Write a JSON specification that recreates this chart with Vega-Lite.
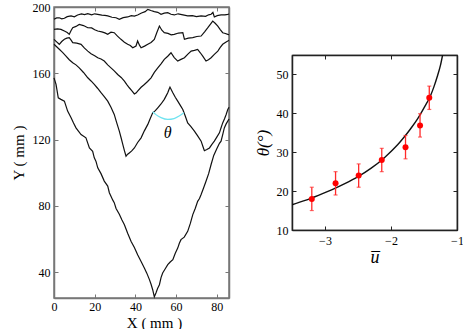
{
  "$schema": "https://vega.github.io/schema/vega-lite/v6.json",
  "padding": {"left": 10, "top": 0, "right": 3, "bottom": 0},
  "background": "white",
  "spacing": 20,
  "config": {
    "font": "Liberation Serif",
    "view": {"stroke": null},
    "axis": {
      "labelFont": "Liberation Serif", "titleFont": "Liberation Serif",
      "labelFontSize": 12, "labelColor": "black", "titleColor": "black",
      "titleFontWeight": "normal", "grid": false, "labelFlush": false,
      "domainColor": "#777", "tickColor": "#777", "domainWidth": 1.5
    }
  },
  "datasets": {
    "profiles": [
      {"c":"A","x":0,"y":192.6},{"c":"A","x":1.3,"y":193.4},{"c":"A","x":2.6,"y":193.5},{"c":"A","x":3.8,"y":192.9},{"c":"A","x":5.1,"y":193.2},{"c":"A","x":6.5,"y":194.2},{"c":"A","x":8.4,"y":194.6},{"c":"A","x":10,"y":194.1},{"c":"A","x":11.6,"y":195.2},{"c":"A","x":13.5,"y":195.8},{"c":"A","x":15,"y":195.4},{"c":"A","x":16.6,"y":196},{"c":"A","x":18.5,"y":195.3},{"c":"A","x":20,"y":195.9},{"c":"A","x":21.5,"y":195.6},{"c":"A","x":23.5,"y":195.1},{"c":"A","x":25,"y":194.9},{"c":"A","x":26.4,"y":194.6},{"c":"A","x":28.5,"y":193.8},{"c":"A","x":30.5,"y":193.5},{"c":"A","x":32.1,"y":192.6},{"c":"A","x":34,"y":193.6},{"c":"A","x":36.2,"y":194},{"c":"A","x":38,"y":194.8},{"c":"A","x":39.5,"y":194.5},{"c":"A","x":41.1,"y":195.2},{"c":"A","x":43,"y":196.4},{"c":"A","x":44.8,"y":197.2},{"c":"A","x":46.1,"y":198.6},{"c":"A","x":47.6,"y":197.9},{"c":"A","x":49.3,"y":197.2},{"c":"A","x":51,"y":196.8},{"c":"A","x":52.6,"y":195.6},{"c":"A","x":54.2,"y":196.3},{"c":"A","x":55.9,"y":196.6},{"c":"A","x":57.5,"y":195.6},{"c":"A","x":59.1,"y":195.2},{"c":"A","x":61,"y":195.9},{"c":"A","x":62.8,"y":195.4},{"c":"A","x":65.7,"y":194.6},{"c":"A","x":68,"y":194.8},{"c":"A","x":70,"y":194.2},{"c":"A","x":72.3,"y":194.6},{"c":"A","x":74.5,"y":194.4},{"c":"A","x":76,"y":195.3},{"c":"A","x":77.2,"y":195.6},{"c":"A","x":78.1,"y":196.7},{"c":"A","x":78.8,"y":194},{"c":"A","x":80.2,"y":194.8},{"c":"A","x":82.1,"y":195.2},{"c":"A","x":84,"y":195.3},{"c":"A","x":85.4,"y":195.6},{"c":"A","x":86,"y":195.8},
      {"c":"B","x":0,"y":186.5},{"c":"B","x":1.7,"y":186.8},{"c":"B","x":3.4,"y":186.5},{"c":"B","x":5.1,"y":185.5},{"c":"B","x":6.5,"y":184.6},{"c":"B","x":7.5,"y":183.5},{"c":"B","x":8.4,"y":185.8},{"c":"B","x":9.2,"y":187.5},{"c":"B","x":10.8,"y":188.3},{"c":"B","x":12.4,"y":189.5},{"c":"B","x":14.5,"y":188.8},{"c":"B","x":16.6,"y":187.5},{"c":"B","x":18.5,"y":187.4},{"c":"B","x":20,"y":186.3},{"c":"B","x":21.5,"y":185.5},{"c":"B","x":23.5,"y":185},{"c":"B","x":25,"y":184.4},{"c":"B","x":26.4,"y":183.5},{"c":"B","x":28,"y":184.8},{"c":"B","x":29.6,"y":184.5},{"c":"B","x":31.2,"y":182.4},{"c":"B","x":32.9,"y":180.5},{"c":"B","x":34.6,"y":178.8},{"c":"B","x":36.2,"y":177.5},{"c":"B","x":37.5,"y":176.8},{"c":"B","x":38.7,"y":175.4},{"c":"B","x":40.3,"y":176.5},{"c":"B","x":41.1,"y":179.5},{"c":"B","x":42,"y":177},{"c":"B","x":42.8,"y":175.4},{"c":"B","x":44.5,"y":176.4},{"c":"B","x":46.1,"y":177.5},{"c":"B","x":47.7,"y":178.6},{"c":"B","x":49.3,"y":180.5},{"c":"B","x":50.5,"y":184.5},{"c":"B","x":51.8,"y":188.5},{"c":"B","x":53,"y":186},{"c":"B","x":54.2,"y":184.5},{"c":"B","x":56,"y":184.1},{"c":"B","x":57.6,"y":183.2},{"c":"B","x":59.1,"y":183.5},{"c":"B","x":61.2,"y":184.3},{"c":"B","x":63.3,"y":184.5},{"c":"B","x":64.1,"y":180.5},{"c":"B","x":66,"y":181.2},{"c":"B","x":68.2,"y":181.5},{"c":"B","x":70.2,"y":182.2},{"c":"B","x":72.3,"y":182.5},{"c":"B","x":74,"y":185},{"c":"B","x":75.6,"y":187.5},{"c":"B","x":77,"y":189.8},{"c":"B","x":78,"y":191.5},{"c":"B","x":79.2,"y":190.2},{"c":"B","x":80.5,"y":188.5},{"c":"B","x":81.7,"y":186.4},{"c":"B","x":82.9,"y":184.5},{"c":"B","x":84.2,"y":184},{"c":"B","x":85.4,"y":183.5},{"c":"B","x":86,"y":183.3},
      {"c":"C","x":0,"y":180.5},{"c":"C","x":1.3,"y":179},{"c":"C","x":2.6,"y":177.5},{"c":"C","x":3.8,"y":179.2},{"c":"C","x":5.1,"y":180.5},{"c":"C","x":6.3,"y":181.2},{"c":"C","x":7.5,"y":181.5},{"c":"C","x":8.4,"y":180},{"c":"C","x":9.2,"y":178.5},{"c":"C","x":11.2,"y":178.2},{"c":"C","x":13.3,"y":177.5},{"c":"C","x":15,"y":175.2},{"c":"C","x":16.6,"y":173.4},{"c":"C","x":18.2,"y":171.8},{"c":"C","x":20,"y":170.6},{"c":"C","x":21.5,"y":169.4},{"c":"C","x":23.1,"y":168.6},{"c":"C","x":24.7,"y":167.4},{"c":"C","x":26.4,"y":165.1},{"c":"C","x":28,"y":163.3},{"c":"C","x":29.6,"y":161.5},{"c":"C","x":31.3,"y":159.3},{"c":"C","x":33,"y":157.5},{"c":"C","x":34.6,"y":155.3},{"c":"C","x":35.8,"y":153.2},{"c":"C","x":37,"y":151.3},{"c":"C","x":38.2,"y":149.6},{"c":"C","x":39.5,"y":147.6},{"c":"C","x":40.3,"y":148.1},{"c":"C","x":41.1,"y":149.3},{"c":"C","x":42.8,"y":151.6},{"c":"C","x":44.4,"y":153.3},{"c":"C","x":46,"y":155.1},{"c":"C","x":47.7,"y":157.3},{"c":"C","x":49.3,"y":160.6},{"c":"C","x":51,"y":163.3},{"c":"C","x":52.6,"y":165.7},{"c":"C","x":54.2,"y":168.4},{"c":"C","x":55.9,"y":170.3},{"c":"C","x":57.5,"y":172.4},{"c":"C","x":59.1,"y":169.5},{"c":"C","x":60.8,"y":167.4},{"c":"C","x":62.4,"y":168.4},{"c":"C","x":64.1,"y":169.4},{"c":"C","x":65.8,"y":171.6},{"c":"C","x":67.4,"y":173.4},{"c":"C","x":69,"y":173.8},{"c":"C","x":70.6,"y":174.4},{"c":"C","x":71.9,"y":172.4},{"c":"C","x":73.1,"y":170.4},{"c":"C","x":74.7,"y":167.4},{"c":"C","x":75.9,"y":168.2},{"c":"C","x":77.2,"y":169.4},{"c":"C","x":78.8,"y":171.4},{"c":"C","x":80.5,"y":173.4},{"c":"C","x":81.7,"y":175.6},{"c":"C","x":82.9,"y":177.5},{"c":"C","x":84.2,"y":178.6},{"c":"C","x":85.4,"y":179.5},{"c":"C","x":86,"y":180},
      {"c":"D","x":0,"y":177.5},{"c":"D","x":1.3,"y":176},{"c":"D","x":2.6,"y":174.5},{"c":"D","x":4.2,"y":172.6},{"c":"D","x":5.9,"y":170.4},{"c":"D","x":7.5,"y":168.2},{"c":"D","x":9.2,"y":166.4},{"c":"D","x":10.8,"y":165.1},{"c":"D","x":12.4,"y":163.3},{"c":"D","x":14.5,"y":160.5},{"c":"D","x":16.6,"y":157.3},{"c":"D","x":18.2,"y":155.4},{"c":"D","x":19.8,"y":153.3},{"c":"D","x":21.4,"y":151},{"c":"D","x":23.1,"y":148.3},{"c":"D","x":24.7,"y":146},{"c":"D","x":26.4,"y":143.2},{"c":"D","x":28,"y":139.5},{"c":"D","x":29.6,"y":135.2},{"c":"D","x":30.8,"y":130.3},{"c":"D","x":32.1,"y":125.1},{"c":"D","x":33,"y":121},{"c":"D","x":33.8,"y":117.1},{"c":"D","x":34.6,"y":113.4},{"c":"D","x":35.4,"y":110},{"c":"D","x":36.2,"y":111.2},{"c":"D","x":37,"y":112},{"c":"D","x":38.2,"y":113.2},{"c":"D","x":39.5,"y":115},{"c":"D","x":41.1,"y":118.3},{"c":"D","x":42.8,"y":121.1},{"c":"D","x":44.4,"y":125.3},{"c":"D","x":46.1,"y":129.2},{"c":"D","x":47.3,"y":132.7},{"c":"D","x":48.5,"y":136.2},{"c":"D","x":49.8,"y":137.5},{"c":"D","x":51,"y":139.2},{"c":"D","x":52.6,"y":141.5},{"c":"D","x":54.2,"y":144.3},{"c":"D","x":55.1,"y":146.4},{"c":"D","x":55.9,"y":148.3},{"c":"D","x":56.5,"y":150.2},{"c":"D","x":57,"y":151.7},{"c":"D","x":57.7,"y":150},{"c":"D","x":58.4,"y":148.3},{"c":"D","x":59.6,"y":145.6},{"c":"D","x":60.8,"y":143.2},{"c":"D","x":62,"y":140.8},{"c":"D","x":63.3,"y":138.2},{"c":"D","x":64.5,"y":134.3},{"c":"D","x":65.7,"y":130.1},{"c":"D","x":67.3,"y":127.8},{"c":"D","x":69,"y":125.1},{"c":"D","x":70.6,"y":122.3},{"c":"D","x":72.3,"y":119.1},{"c":"D","x":73.1,"y":116.2},{"c":"D","x":73.9,"y":113.3},{"c":"D","x":75.1,"y":114},{"c":"D","x":76.4,"y":115},{"c":"D","x":77.6,"y":117.2},{"c":"D","x":78.8,"y":119.1},{"c":"D","x":80,"y":121.5},{"c":"D","x":81.3,"y":124.1},{"c":"D","x":82.1,"y":127.2},{"c":"D","x":82.9,"y":130.1},{"c":"D","x":83.8,"y":132.6},{"c":"D","x":84.6,"y":135.2},{"c":"D","x":85.4,"y":138.2},{"c":"D","x":86,"y":139.5},
      {"c":"E","x":0,"y":157.3},{"c":"E","x":1,"y":153.3},{"c":"E","x":2.1,"y":145.2},{"c":"E","x":3.4,"y":144.3},{"c":"E","x":5.1,"y":143.2},{"c":"E","x":6.7,"y":137.2},{"c":"E","x":8.4,"y":133.2},{"c":"E","x":9.6,"y":130},{"c":"E","x":10.8,"y":127.1},{"c":"E","x":12,"y":125.2},{"c":"E","x":13.3,"y":123.1},{"c":"E","x":15.7,"y":121.1},{"c":"E","x":17.4,"y":115},{"c":"E","x":19,"y":113},{"c":"E","x":19.8,"y":109},{"c":"E","x":20.6,"y":107},{"c":"E","x":21.5,"y":103},{"c":"E","x":23.1,"y":99.5},{"c":"E","x":24.7,"y":95},{"c":"E","x":26.4,"y":92},{"c":"E","x":27.2,"y":88},{"c":"E","x":28.9,"y":83.5},{"c":"E","x":29.6,"y":82},{"c":"E","x":30.5,"y":78.5},{"c":"E","x":32.1,"y":75},{"c":"E","x":33.4,"y":71.5},{"c":"E","x":34.6,"y":68.7},{"c":"E","x":36.2,"y":63.5},{"c":"E","x":37.9,"y":58.6},{"c":"E","x":39.5,"y":55},{"c":"E","x":41.1,"y":50.6},{"c":"E","x":42.8,"y":46.5},{"c":"E","x":44.4,"y":42.6},{"c":"E","x":45.6,"y":39.5},{"c":"E","x":46.9,"y":35.6},{"c":"E","x":47.7,"y":32.8},{"c":"E","x":48.5,"y":29.5},{"c":"E","x":49.3,"y":25.2},{"c":"E","x":50.1,"y":27.5},{"c":"E","x":50.9,"y":30.2},{"c":"E","x":51.8,"y":32.5},{"c":"E","x":52.6,"y":36.8},{"c":"E","x":53.4,"y":39.6},{"c":"E","x":54.6,"y":42},{"c":"E","x":55.9,"y":44.6},{"c":"E","x":57.1,"y":46.2},{"c":"E","x":58.4,"y":47.6},{"c":"E","x":59.6,"y":51.5},{"c":"E","x":60.8,"y":54.6},{"c":"E","x":61.6,"y":57.5},{"c":"E","x":62.4,"y":59.7},{"c":"E","x":64,"y":61.2},{"c":"E","x":65.7,"y":64.7},{"c":"E","x":67,"y":69.5},{"c":"E","x":68.2,"y":74.8},{"c":"E","x":69.4,"y":78.5},{"c":"E","x":70.6,"y":82.8},{"c":"E","x":71.5,"y":84.5},{"c":"E","x":72.3,"y":86.9},{"c":"E","x":73.5,"y":90.8},{"c":"E","x":74.7,"y":94.9},{"c":"E","x":76,"y":99.5},{"c":"E","x":77.2,"y":105},{"c":"E","x":78.5,"y":110.5},{"c":"E","x":80,"y":114.5},{"c":"E","x":81.3,"y":117.8},{"c":"E","x":82.1,"y":119.1},{"c":"E","x":83,"y":123.5},{"c":"E","x":83.7,"y":127.1},{"c":"E","x":84.6,"y":129.5},{"c":"E","x":85.4,"y":131.2},{"c":"E","x":86,"y":132.5}
    ],
    "arc": [
      {"x":48.5,"y":136.8},{"x":50.1,"y":135.1},{"x":52.6,"y":133.3},{"x":55.9,"y":132.2},{"x":59,"y":132.7},{"x":61.5,"y":134.2},{"x":63.8,"y":136.2}
    ],
    "label": [{"x":55.9,"y":124.1,"t":"θ"}],
    "fit": [
      {"u":-3.5,"th":16.5},{"u":-3.3,"th":17.6},{"u":-3.1,"th":18.9},{"u":-2.9,"th":20.3},{"u":-2.7,"th":21.9},{"u":-2.5,"th":23.7},{"u":-2.3,"th":25.9},{"u":-2.1,"th":28.6},{"u":-1.9,"th":31.9},{"u":-1.8,"th":33.9},{"u":-1.7,"th":36.1},{"u":-1.6,"th":38.5},{"u":-1.5,"th":41.4},{"u":-1.4,"th":44.6},{"u":-1.35,"th":46.8},{"u":-1.3,"th":49.4},{"u":-1.25,"th":52.4},{"u":-1.218,"th":55}
    ],
    "pts": [
      {"u":-3.2,"th":18,"lo":15,"hi":21},{"u":-2.84,"th":22,"lo":19,"hi":25},{"u":-2.49,"th":24,"lo":21,"hi":27},{"u":-2.14,"th":28,"lo":25,"hi":31},{"u":-1.78,"th":31.3,"lo":28.3,"hi":34.3},{"u":-1.56,"th":36.9,"lo":33.9,"hi":39.9},{"u":-1.42,"th":44,"lo":41,"hi":47}
    ],
    "empty": []
  },
  "hconcat": [
    {
      "width": 175, "height": 291,
      "view": {"stroke": "#777", "strokeWidth": 1.5},
      "resolve": {"axis": {"x": "independent", "y": "independent"}},
      "layer": [
        {
          "data": {"name": "profiles"},
          "mark": {"type": "line", "color": "#111", "strokeWidth": 1.2},
          "encoding": {
            "x": {"field": "x", "type": "quantitative", "scale": {"domain": [0, 86], "nice": false, "zero": false},
                  "axis": {"values": [0, 20, 40, 60, 80], "title": "X ( mm )", "titleFontSize": 15, "titlePadding": 3, "tickSize": -4, "labelPadding": 7, "titleX": 100}},
            "y": {"field": "y", "type": "quantitative", "scale": {"domain": [24.5, 200], "nice": false, "zero": false},
                  "axis": {"values": [40, 80, 120, 160, 200], "title": "Y ( mm )", "titleFontSize": 15, "titlePadding": 6, "tickSize": -4, "labelPadding": 8}},
            "detail": {"field": "c"}
          }
        },
        {
          "data": {"name": "arc"},
          "mark": {"type": "line", "color": "#6fe3f0", "strokeWidth": 1.2, "interpolate": "monotone"},
          "encoding": {
            "x": {"field": "x", "type": "quantitative", "axis": null},
            "y": {"field": "y", "type": "quantitative", "axis": null}
          }
        },
        {
          "data": {"name": "label"},
          "mark": {"type": "text", "font": "Liberation Serif", "fontStyle": "italic", "fontSize": 16, "color": "black"},
          "encoding": {
            "x": {"field": "x", "type": "quantitative", "axis": {"orient": "top", "values": [0, 20, 40, 60, 80], "labels": false, "title": null, "tickSize": -4}},
            "y": {"field": "y", "type": "quantitative", "axis": {"orient": "right", "values": [40, 80, 120, 160, 200], "labels": false, "title": null, "tickSize": -4}},
            "text": {"field": "t"}
          }
        }
      ]
    },
    {
      "spacing": 0,
      "vconcat": [
        {
          "width": 165, "height": 45.7,
          "data": {"name": "empty"},
          "mark": {"type": "point", "opacity": 0},
          "encoding": {}
        },
        {
          "width": 165, "height": 175,
          "view": {"stroke": "#222", "strokeWidth": 1.2},
          "resolve": {"axis": {"x": "independent", "y": "independent"}},
          "layer": [
            {
              "data": {"name": "fit"},
              "mark": {"type": "line", "color": "#111", "strokeWidth": 1.4, "interpolate": "monotone", "clip": true},
              "encoding": {
                "x": {"field": "u", "type": "quantitative", "scale": {"domain": [-3.5, -1], "nice": false, "zero": false},
                      "axis": {"values": [-3, -2, -1], "title": "u\u0305", "titleFontSize": 18, "titleFontStyle": "italic", "titlePadding": 2, "tickSize": -4, "labelPadding": 9, "domainColor": "#222", "tickColor": "#222"}},
                "y": {"field": "th", "type": "quantitative", "scale": {"domain": [10, 55], "nice": false, "zero": false},
                      "axis": {"values": [10, 20, 30, 40, 50], "title": "θ(°)", "titleFontSize": 17, "titleFontStyle": "italic", "titlePadding": 4, "tickSize": -4, "labelPadding": 8, "domainColor": "#222", "tickColor": "#222"}}
              }
            },
            {
              "data": {"name": "pts"},
              "mark": {"type": "rule", "color": "#ff2a2a", "strokeWidth": 1.3},
              "encoding": {
                "x": {"field": "u", "type": "quantitative", "axis": null},
                "y": {"field": "lo", "type": "quantitative", "axis": null},
                "y2": {"field": "hi"}
              }
            },
            {
              "data": {"name": "pts"},
              "mark": {"type": "tick", "orient": "horizontal", "color": "#ff2a2a", "size": 4, "thickness": 1.2},
              "encoding": {
                "x": {"field": "u", "type": "quantitative", "axis": null},
                "y": {"field": "lo", "type": "quantitative", "axis": null}
              }
            },
            {
              "data": {"name": "pts"},
              "mark": {"type": "tick", "orient": "horizontal", "color": "#ff2a2a", "size": 4, "thickness": 1.2},
              "encoding": {
                "x": {"field": "u", "type": "quantitative", "axis": null},
                "y": {"field": "hi", "type": "quantitative", "axis": null}
              }
            },
            {
              "data": {"name": "pts"},
              "mark": {"type": "circle", "color": "#ff0000", "opacity": 1, "size": 36},
              "encoding": {
                "x": {"field": "u", "type": "quantitative", "axis": {"orient": "top", "values": [-3, -2, -1], "labels": false, "title": null, "tickSize": -4, "domainColor": "#222", "tickColor": "#222"}},
                "y": {"field": "th", "type": "quantitative", "axis": {"orient": "right", "values": [10, 20, 30, 40, 50], "labels": false, "title": null, "tickSize": -4, "domainColor": "#222", "tickColor": "#222"}}
              }
            }
          ]
        }
      ]
    }
  ]
}
